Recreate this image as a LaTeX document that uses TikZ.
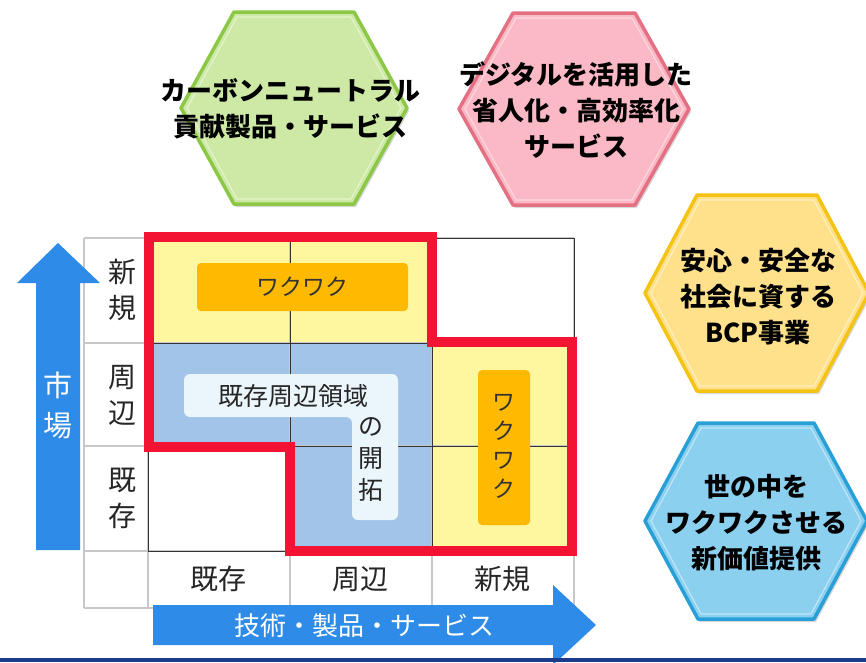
\documentclass[tikz,border=0pt]{standalone}
\usepackage{fontspec}
\newfontfamily\jp{Noto Sans CJK JP}
\usetikzlibrary{shadows}
\definecolor{gfill}{RGB}{205,233,165}
\definecolor{gdraw}{RGB}{140,200,70}
\definecolor{pfill}{RGB}{250,185,196}
\definecolor{pdraw}{RGB}{228,112,132}
\definecolor{yfill}{RGB}{255,225,140}
\definecolor{ydraw}{RGB}{245,195,20}
\definecolor{bfill}{RGB}{140,208,240}
\definecolor{bdraw}{RGB}{40,160,215}
\definecolor{cellyel}{RGB}{255,246,160}
\definecolor{cellblue}{RGB}{162,196,232}
\definecolor{orng}{RGB}{255,186,0}
\definecolor{lbox}{RGB}{234,246,251}
\definecolor{redl}{RGB}{242,20,50}
\definecolor{arrblue}{RGB}{46,140,232}
\definecolor{navy}{RGB}{27,58,140}
\definecolor{gridgray}{RGB}{200,200,200}
\begin{document}
\begin{tikzpicture}[x=1pt,y=-1pt,
  hexshape/.style={line width=3.5pt,line join=round,drop shadow={opacity=0.3,shadow xshift=2pt,shadow yshift=-3pt}},
  hexinner/.style={line width=1.2pt,line join=round,draw=white,draw opacity=0.45},
  hextext/.style={font=\jp\bfseries\fontsize{26}{36}\selectfont,align=center,inner sep=0pt,text=black},
  lbl/.style={font=\jp\fontsize{28}{36}\selectfont,align=center,inner sep=0pt,text=black!85},
  wk/.style={font=\jp\fontsize{23}{29}\selectfont,align=center,inner sep=0pt,text=black!80},
  reg/.style={font=\jp\fontsize{25}{32}\selectfont,align=center,inner sep=0pt,text=black!85},
  axis/.style={font=\jp\fontsize{29}{40}\selectfont,align=center,inner sep=0pt,text=white},
  axisb/.style={font=\jp\fontsize{26}{32}\selectfont,inner sep=0pt,text=white}]
\useasboundingbox (0,0) rectangle (866,662);
\fill[white] (0,0) rectangle (866,662);

% hexagons
\begin{scope}[shift={(294,108)}]
\path[hexshape,fill=gfill,draw=gdraw] (-113,0) -- (-60,-96) -- (60,-96) -- (113,0) -- (60,96) -- (-60,96) -- cycle;
\path[hexinner] (-107,0) -- (-57,-91) -- (57,-91) -- (107,0) -- (57,91) -- (-57,91) -- cycle;
\end{scope}
\begin{scope}[shift={(574,109)}]
\path[hexshape,fill=pfill,draw=pdraw] (-115,0) -- (-61,-96) -- (61,-96) -- (115,0) -- (61,96) -- (-61,96) -- cycle;
\path[hexinner] (-109,0) -- (-58,-91) -- (58,-91) -- (109,0) -- (58,91) -- (-58,91) -- cycle;
\end{scope}
\begin{scope}[shift={(757,293)}]
\path[hexshape,fill=yfill,draw=ydraw] (-112,0) -- (-60,-98) -- (60,-98) -- (112,0) -- (60,98) -- (-60,98) -- cycle;
\path[hexinner] (-106,0) -- (-57,-93) -- (57,-93) -- (106,0) -- (57,93) -- (-57,93) -- cycle;
\end{scope}
\begin{scope}[shift={(756,521)}]
\path[hexshape,fill=bfill,draw=bdraw] (-111,0) -- (-58,-98) -- (58,-98) -- (111,0) -- (58,98) -- (-58,98) -- cycle;
\path[hexinner] (-105,0) -- (-55,-93) -- (55,-93) -- (105,0) -- (55,93) -- (-55,93) -- cycle;
\end{scope}

\node[hextext] (hg) at (290,109) {カーボンニュートラル\\貢献製品・サービス};
\node[hextext] (hp) at (576,110) {デジタルを活用した\\省人化・高効率化\\サービス};
\node[hextext] (hy) at (758,297) {安心・安全な\\社会に資する\\BCP事業};
\node[hextext] (hb) at (756,523) {世の中を\\ワクワクさせる\\新価値提供};

% cell fills
\fill[cellyel] (148,238) rectangle (432,343);
\fill[cellyel] (432,343) rectangle (574,551);
\fill[cellblue] (148,343) rectangle (432,446);
\fill[cellblue] (290,446) rectangle (432,551);

% table grid
\foreach \x in {84,148,290,432,574} \draw[gridgray,line width=1.2pt] (\x,238) -- (\x,608);
\foreach \y in {238,343,446,551,608} \draw[gridgray,line width=1.2pt] (84,\y) -- (574,\y);
\foreach \x in {148,290,432,574} \draw[black!80,line width=0.9pt] (\x,238) -- (\x,551);
\foreach \y in {238,343,446,551} \draw[black!80,line width=0.9pt] (148,\y) -- (574,\y);

% inner boxes
\fill[orng,rounded corners=4pt] (197,263) rectangle (408,311);
\fill[orng,rounded corners=4pt] (478,370) rectangle (530,525);
\fill[lbox,rounded corners=6pt] (184,374) -- (398,374) -- (398,520) -- (352,520) -- (352,417) -- (184,417) -- cycle;

% red outline
\draw[redl,line width=10pt,line join=miter] (149,237) -- (432,237) -- (432,342) -- (572,342) -- (572,551) -- (290,551) -- (290,447) -- (149,447) -- cycle;

% labels
\node[wk] (w1) at (302,287) {ワクワク};
\node[wk] (w2) at (504,446) {ワ\\ク\\ワ\\ク};
\node[reg] (e1) at (293,396) {既存周辺領域};
\node[reg] (e2) at (371,460) {の\\開\\拓};

\node[lbl] (r1) at (122,290) {新\\規};
\node[lbl] (r2) at (122,395) {周\\辺};
\node[lbl] (r3) at (122,498) {既\\存};
\node[lbl] (c1) at (218,579) {既存};
\node[lbl] (c2) at (360,579) {周辺};
\node[lbl] (c3) at (502,579) {新規};

% arrows
\fill[arrblue] (36,550) -- (36,283) -- (17,283) -- (58,243) -- (100,283) -- (80,283) -- (80,550) -- cycle;
\node[axis] (ma) at (58,405) {市\\場};
\fill[arrblue] (153,605) -- (553,605) -- (553,585) -- (596,625) -- (553,665) -- (553,645) -- (153,645) -- cycle;
\node[axisb] (ta) at (364,626) {技術・製品・サービス};

% bottom bar
\fill[navy] (0,658) rectangle (866,662);
\end{tikzpicture}
\end{document}
